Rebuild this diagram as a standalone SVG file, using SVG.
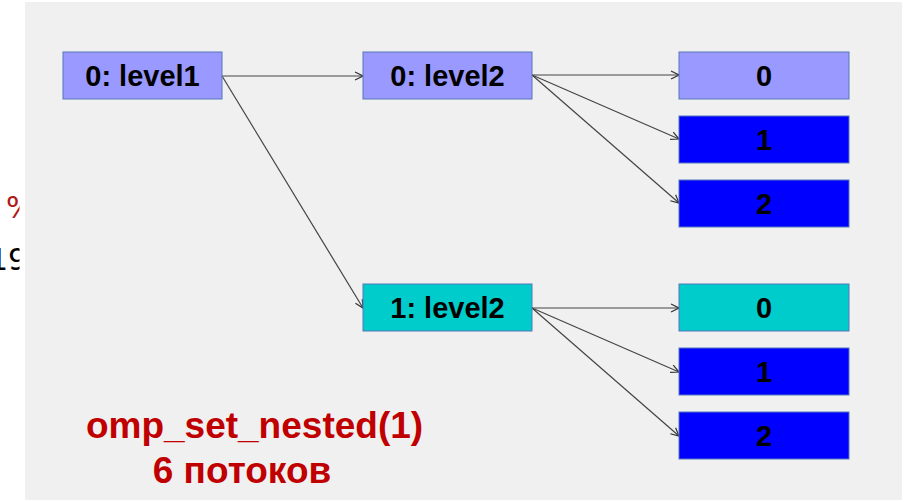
<svg xmlns="http://www.w3.org/2000/svg" width="912" height="502" viewBox="0 0 912 502">
  <defs>
    <style>
      .panel { fill: #f0f0f0; }
      .box { stroke: #5577bb; stroke-width: 1; }
      .lilac { fill: #9999ff; }
      .blue { fill: #0000ff; }
      .cyan { fill: #00cccc; }
      .label { font-family: "Liberation Sans", Arial, sans-serif; font-weight: bold; font-size: 29px; fill: #000; text-anchor: middle; }
      .note { font-family: "Liberation Sans", Arial, sans-serif; font-weight: bold; font-size: 37px; fill: #c00000; text-anchor: middle; }
      .edge { stroke: #444; stroke-width: 1.2; fill: none; marker-end: url(#arrow); }
      .stray { font-family: "DejaVu Sans", sans-serif; font-size: 30px; }
    </style>
    <marker id="arrow" markerWidth="10" markerHeight="10" refX="9" refY="5" orient="auto" markerUnits="userSpaceOnUse">
      <path d="M1,1 L9,5 L1,9" fill="none" stroke="#333" stroke-width="1.2"/>
    </marker>
    <clipPath id="leftEdge">
      <rect x="0" y="0" width="19.5" height="502"/>
    </clipPath>
  </defs>

  <rect width="912" height="502" fill="#ffffff"/>

  <!-- text fragments at the left margin -->
  <g clip-path="url(#leftEdge)">
    <text class="stray" x="6" y="218" fill="#b01818">%</text>
    <text class="stray" x="-11" y="270" fill="#000">19</text>
  </g>

  <rect class="panel" x="25" y="2" width="877" height="498"/>

  <g id="connectors">
    <line class="edge" x1="222" y1="76" x2="363" y2="76"/>
    <line class="edge" x1="222" y1="76" x2="363" y2="308"/>
    <line class="edge" x1="532" y1="75" x2="679" y2="75"/>
    <line class="edge" x1="532" y1="75" x2="679" y2="139"/>
    <line class="edge" x1="532" y1="75" x2="679" y2="203"/>
    <line class="edge" x1="532" y1="308" x2="679" y2="308"/>
    <line class="edge" x1="532" y1="308" x2="679" y2="372"/>
    <line class="edge" x1="532" y1="308" x2="679" y2="436"/>
  </g>

  <g id="level1-0">
    <rect class="box lilac" x="63" y="52" width="159" height="47"/>
    <text class="label" x="142.5" y="86">0: level1</text>
  </g>

  <g id="level2-0">
    <rect class="box lilac" x="363" y="52" width="169" height="47"/>
    <text class="label" x="447.5" y="86">0: level2</text>
  </g>

  <g id="level2-1">
    <rect class="box cyan" x="363" y="284" width="169" height="47"/>
    <text class="label" x="447.5" y="318">1: level2</text>
  </g>

  <g id="thread-a0">
    <rect class="box lilac" x="679" y="52" width="170" height="47"/>
    <text class="label" x="764" y="86">0</text>
  </g>
  <g id="thread-a1">
    <rect class="box blue" x="679" y="116" width="170" height="47"/>
    <text class="label" x="764" y="150">1</text>
  </g>
  <g id="thread-a2">
    <rect class="box blue" x="679" y="180" width="170" height="47"/>
    <text class="label" x="764" y="214">2</text>
  </g>

  <g id="thread-b0">
    <rect class="box cyan" x="679" y="284" width="170" height="47"/>
    <text class="label" x="764" y="318">0</text>
  </g>
  <g id="thread-b1">
    <rect class="box blue" x="679" y="348" width="170" height="47"/>
    <text class="label" x="764" y="382">1</text>
  </g>
  <g id="thread-b2">
    <rect class="box blue" x="679" y="412" width="170" height="47"/>
    <text class="label" x="764" y="446">2</text>
  </g>

  <g id="caption">
    <text class="note" x="254.5" y="438">omp_set_nested(1)</text>
    <text class="note" x="242" y="483">6 потоков</text>
  </g>
</svg>
